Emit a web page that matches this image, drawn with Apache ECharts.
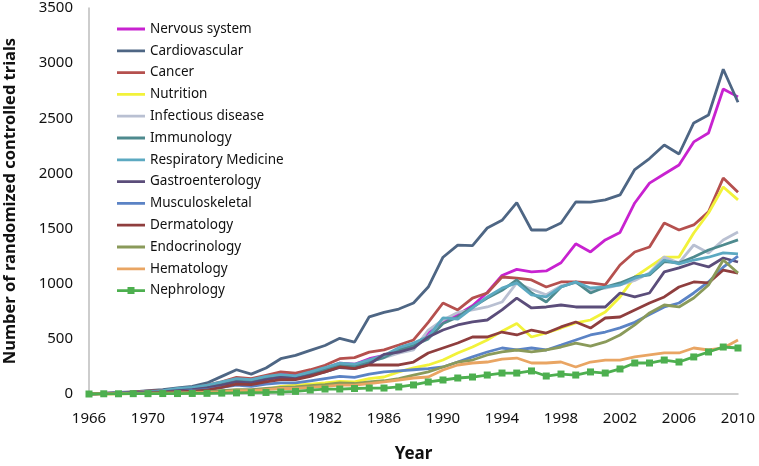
<!DOCTYPE html>
<html>
<head>
<meta charset="utf-8">
<script src="https://cdn.jsdelivr.net/npm/echarts@6/dist/echarts.min.js"></script>
<style>html,body{margin:0;padding:0;background:#fff;}#c{width:759px;height:466px;}</style>
</head>
<body>
<div id="c"></div>
<script>
var years = [];
for (var y = 1966; y <= 2010; y++) years.push(String(y));

var nervousSystem = [0,5,10,15,20,25,30,40,60,90,120,110,150,180,170,200,230,280,270,320,350,380,420,560,660,720,800,920,1075,1130,1107,1116,1190,1362,1288,1397,1465,1732,1912,1995,2077,2286,2367,2766,2694];
var cardiovascular = [0,5,15,20,30,40,55,70,100,160,220,180,236,320,350,395,440,505,470,700,740,770,825,970,1240,1350,1345,1505,1575,1735,1487,1487,1550,1741,1740,1760,1805,2035,2135,2258,2176,2458,2530,2945,2645];
var cancer = [0,5,10,20,25,30,40,50,80,110,150,140,170,200,190,220,260,320,330,380,400,444,490,650,825,762,870,916,1061,1050,1034,970,1016,1016,1007,989,1170,1288,1333,1551,1487,1533,1651,1959,1830];
var nutrition = [0,0,0,5,5,5,10,10,10,15,20,20,40,70,80,90,100,115,110,140,154,200,236,263,308,372,426,490,570,640,517,553,598,644,671,744,880,1061,1152,1242,1242,1460,1641,1877,1760];
var infectious = [0,3,8,12,18,22,30,40,60,90,120,110,140,160,150,180,210,250,260,300,330,370,400,580,671,740,762,789,834,1007,950,900,980,1010,940,960,990,1030,1097,1242,1188,1351,1279,1397,1469];
var immunology = [0,3,8,12,18,25,40,50,70,100,130,120,150,170,160,190,220,260,250,290,330,400,440,500,640,698,789,870,940,1034,916,834,970,1016,916,970,1007,1061,1080,1200,1188,1242,1306,1351,1397];
var respiratory = [0,5,10,15,20,30,50,60,80,110,140,130,160,175,165,200,240,280,270,310,350,420,462,520,690,680,780,880,960,1007,898,880,970,1016,961,970,989,1050,1090,1215,1180,1215,1240,1280,1270];
var gastro = [0,3,8,12,15,20,30,40,55,80,110,100,130,150,140,170,200,240,230,270,360,380,417,517,580,626,653,671,762,870,780,789,807,789,789,789,916,880,916,1107,1143,1188,1152,1233,1197];
var musculo = [0,3,5,8,10,15,20,30,40,60,80,70,90,100,100,120,140,160,150,180,200,210,220,230,245,290,336,381,417,400,417,399,444,490,535,562,600,650,720,789,825,916,1016,1150,1250];
var dermatology = [0,3,5,8,10,15,20,25,35,60,90,85,110,130,130,160,200,245,230,263,263,263,290,372,417,462,517,517,562,535,580,553,608,653,598,689,698,762,825,880,970,1016,1007,1124,1097];
var endocrinology = [0,2,4,6,8,10,12,15,20,30,40,40,50,60,65,75,85,100,95,110,120,140,172,200,245,290,308,354,381,399,381,399,426,462,435,472,535,626,735,807,789,870,989,1215,1097];
var hematology = [0,0,2,4,5,6,8,10,15,20,30,30,40,50,50,60,70,80,80,95,109,127,145,154,218,263,281,290,317,326,281,281,290,245,290,308,308,336,354,372,372,417,399,417,490];
var nephrology = [0,2,2,3,3,4,4,5,6,8,10,12,14,18,24,36,45,45,50,54,54,64,82,109,127,145,154,172,190,190,209,163,181,172,200,190,227,281,281,308,290,336,381,426,417];

var seriesNames = ["Nervous system","Cardiovascular","Cancer","Nutrition","Infectious disease","Immunology","Respiratory Medicine","Gastroenterology","Musculoskeletal","Dermatology","Endocrinology","Hematology","Nephrology"];
var seriesData = [nervousSystem,cardiovascular,cancer,nutrition,infectious,immunology,respiratory,gastro,musculo,dermatology,endocrinology,hematology,nephrology];
var colors = ["#C822D0","#4E6684","#B5504E","#F2F23A","#B9C0D2","#4E8A8E","#5CA9C1","#5B4D7A","#5B83C5","#8F3E3E","#8A9A5A","#E9A563","#4DAF4F"];
var yTicks = [0,500,1000,1500,2000,2500,3000,3500];

var lineIcon = 'path://M0,5.6 L28,5.6 L28,8.4 L0,8.4 Z M0,0 L0.01,0 L0.01,0.01 Z M0,14 L0.01,14 L0.01,13.99 Z';
var squareIcon = 'path://M0,5.6 L28,5.6 L28,8.4 L0,8.4 Z M10.5,3.5 L17.5,3.5 L17.5,10.5 L10.5,10.5 Z M0,0 L0.01,0 L0.01,0.01 Z M0,14 L0.01,14 L0.01,13.99 Z';

var series = seriesNames.map(function(n, i){
  var isNeph = (n === "Nephrology");
  return {
    name: n, type: 'line', data: seriesData[i],
    symbol: isNeph ? 'rect' : 'none', symbolSize: 7, showSymbol: isNeph,
    lineStyle: {width: 2.8, color: colors[i]},
    itemStyle: {color: colors[i]},
    emphasis: {disabled: true}
  };
});

var chart = echarts.init(document.getElementById('c'));
chart.setOption({
  animation: false,
  color: colors,
  textStyle: {fontFamily: 'Noto Sans'},
  grid: {left: 89, right: 21, top: 8, bottom: 72, containLabel: false, outerBoundsMode: 'none'},
  legend: {
    orient: 'vertical', left: 112, top: 17, itemGap: 7.8, itemWidth: 28, itemHeight: 14,
    textStyle: {fontSize: 13.5, color: '#111', fontFamily: 'Noto Sans'},
    data: seriesNames.map(function(n){ return {name: n, icon: n === 'Nephrology' ? squareIcon : lineIcon}; })
  },
  xAxis: {
    type: 'category', data: years, boundaryGap: false,
    name: 'Year', nameLocation: 'middle', nameGap: 52,
    nameTextStyle: {fontSize: 17, fontWeight: 'bold', color: '#111'},
    axisLine: {lineStyle: {color: '#BDBDBD', width: 1.5}},
    axisTick: {show: false},
    axisLabel: {interval: 3, fontSize: 15, color: '#111', margin: 17}
  },
  yAxis: {
    type: 'value', min: yTicks[0], max: yTicks[yTicks.length-1], interval: 500,
    name: 'Number of randomized controlled trials', nameLocation: 'middle', nameGap: 70,
    nameTextStyle: {fontSize: 16.5, fontWeight: 'bold', color: '#111'},
    axisLine: {show: true, lineStyle: {color: '#BDBDBD', width: 1.5}},
    axisTick: {show: false},
    splitLine: {show: false},
    axisLabel: {fontSize: 15, color: '#111', margin: 16, formatter: function(v){ return String(v); }}
  },
  series: series
});
</script>
</body>
</html>
